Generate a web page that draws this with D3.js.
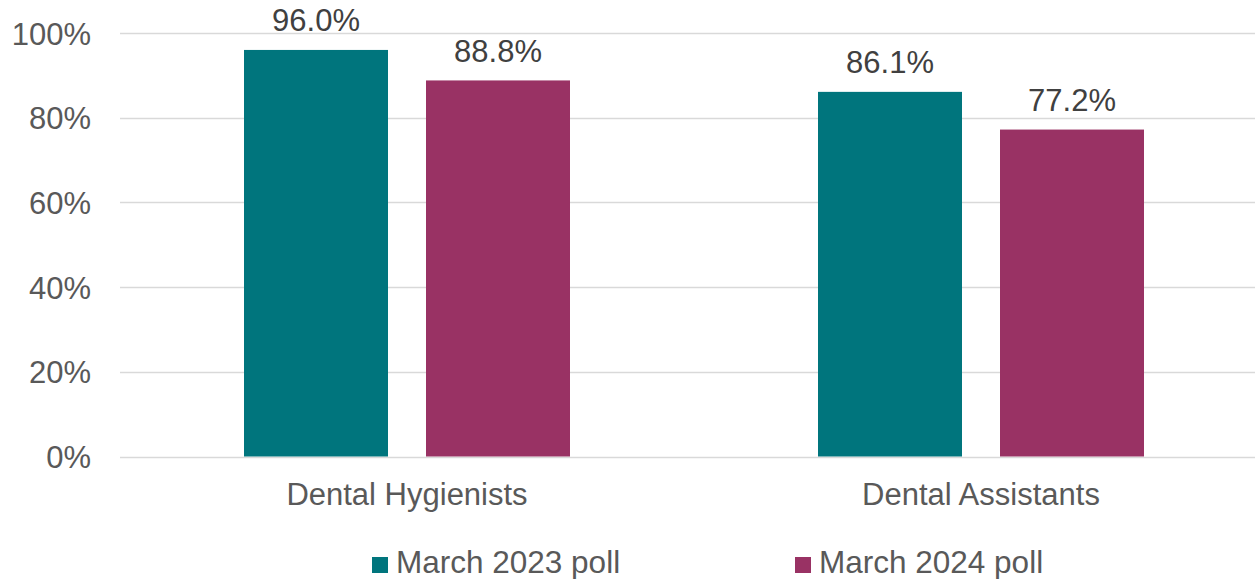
<!DOCTYPE html>
<html>
<head>
<meta charset="utf-8">
<script src="https://cdn.jsdelivr.net/npm/d3@7"></script>
<style>
  html, body { margin: 0; padding: 0; background: #fff; }
  svg { display: block; font-family: "Liberation Sans", Arial, sans-serif; }
</style>
</head>
<body>
<svg id="chart" width="1255" height="579"></svg>
<script>
const categories = ["Dental Hygienists", "Dental Assistants"];
const seriesNames = ["March 2023 poll", "March 2024 poll"];
const values2023 = [0.960, 0.861];
const values2024 = [0.888, 0.772];
const yTicks = [0, 0.2, 0.4, 0.6, 0.8, 1.0];
const colors = ["#00757D", "#993264"];

(function () {
const seriesValues = [values2023, values2024];
const svg = d3.select("#chart");

const plotLeft = 120, plotRight = 1268, plotTop = 33, plotBottom = 456.5;
const fs = 31;

const y = d3.scaleLinear().domain([0, 1]).range([plotBottom, plotTop]);
const x0 = d3.scaleBand().domain(categories).range([plotLeft, plotRight])
  .paddingInner(248 / 574).paddingOuter(124 / 574);
const x1 = d3.scaleBand().domain(seriesNames).range([0, x0.bandwidth()])
  .paddingInner(38 / 182).paddingOuter(0);

// gridlines
svg.append("g").selectAll("line").data(yTicks).join("line")
  .attr("x1", plotLeft).attr("x2", 1255)
  .attr("y1", d => Math.round(y(d)) + 0.5).attr("y2", d => Math.round(y(d)) + 0.5)
  .attr("stroke", "#d9d9d9").attr("stroke-width", 1.5);

// y axis labels
const yAxis = d3.axisLeft(y).tickValues(yTicks).tickFormat(d3.format(".0%")).tickSize(0).tickPadding(0);
const ya = svg.append("g").attr("transform", "translate(91,0)").call(yAxis);
ya.select(".domain").remove();
ya.selectAll("text").attr("font-size", fs).attr("fill", "#595959")
  .attr("font-family", "Liberation Sans, Arial, sans-serif")
  .attr("dy", null).attr("y", 11);

// x axis labels
const xAxis = d3.axisBottom(x0).tickSize(0).tickPadding(0);
const xa = svg.append("g").call(xAxis);
xa.select(".domain").remove();
xa.selectAll("text").attr("font-size", fs).attr("fill", "#595959")
  .attr("font-family", "Liberation Sans, Arial, sans-serif")
  .attr("dy", null).attr("y", 505);

// bars
const groups = svg.append("g").selectAll("g").data(categories).join("g")
  .attr("transform", c => `translate(${x0(c)},0)`);

const rows = (c, i) => seriesNames.map((s, j) => ({ s, j, v: seriesValues[j][i] }));

groups.selectAll("rect").data(rows).join("rect")
  .attr("x", d => x1(d.s))
  .attr("width", x1.bandwidth())
  .attr("y", d => y(d.v))
  .attr("height", d => y(0) - y(d.v))
  .attr("fill", d => colors[d.j]);

groups.selectAll("text").data(rows).join("text")
  .attr("x", d => x1(d.s) + x1.bandwidth() / 2)
  .attr("y", d => y(d.v) - 18.5)
  .attr("text-anchor", "middle")
  .attr("font-size", fs)
  .attr("fill", "#404040")
  .text(d => d3.format(".1%")(d.v));

// legend
const legendX = [372, 795];
const leg = svg.append("g").selectAll("g").data(seriesNames).join("g")
  .attr("transform", (d, i) => `translate(${legendX[i]},0)`);
leg.append("rect").attr("x", 0).attr("y", 557).attr("width", 16).attr("height", 16)
  .attr("fill", (d, i) => colors[i]);
leg.append("text").attr("x", 24).attr("y", 573).attr("font-size", 31.5)
  .attr("fill", "#595959").text(d => d);
})();
</script>
</body>
</html>
